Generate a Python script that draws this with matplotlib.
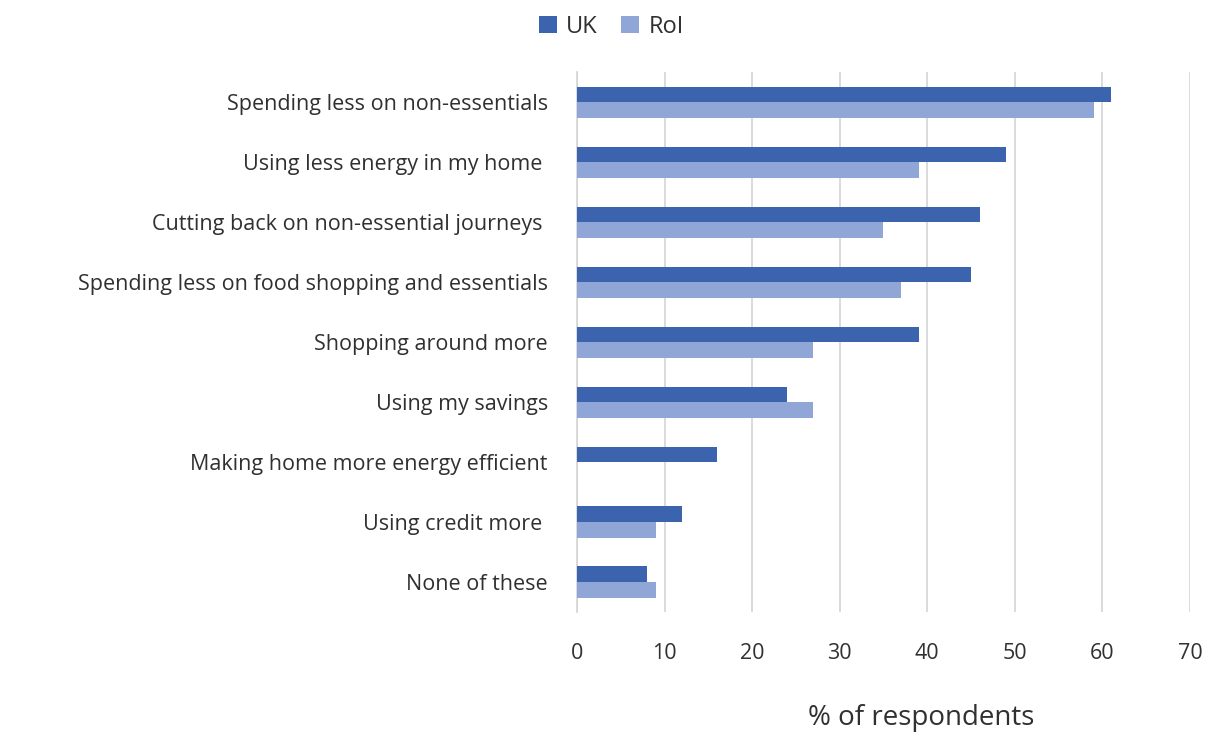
import numpy as np
import matplotlib.pyplot as plt

plt.rcParams['font.family'] = ['Open Sans', 'DejaVu Sans']

# survey responses, top to bottom
actions = [
    "Spending less on non-essentials",
    "Using less energy in my home ",
    "Cutting back on non-essential journeys ",
    "Spending less on food shopping and essentials",
    "Shopping around more",
    "Using my savings",
    "Making home more energy efficient",
    "Using credit more ",
    "None of these",
]
uk = [61, 49, 46, 45, 39, 24, 16, 12, 8]
roi = [59, 39, 35, 37, 27, 27, 0, 9, 9]

uk_col = "#3c63ad"
roi_col = "#8fa6d6"

fig = plt.figure(figsize=(12.11, 7.32), dpi=100)
ax = fig.add_axes([0.4765, 0.164, 0.5061, 0.737])

y = np.arange(len(actions))
h = 0.26
ax.barh(y - h / 2, uk, height=h, color=uk_col, label="UK", zorder=3)
ax.barh(y + h / 2, roi, height=h, color=roi_col, label="RoI", zorder=3)

ax.set_ylim(len(actions) - 0.5, -0.5)
ax.set_yticks(y)
ax.set_yticklabels(actions, fontsize=15.5, color="#303030")
ax.tick_params(axis="y", length=0, pad=21)

ax.set_xlim(0, 70)
ax.set_xticks(range(0, 71, 10))
ax.tick_params(axis="x", length=0, pad=22, labelsize=15.5, labelcolor="#303030")
ax.xaxis.grid(True, color="#d4d4d4", linewidth=1.2, zorder=0)
ax.set_xlabel("% of respondents", fontsize=20, color="#303030", va="top")
ax.xaxis.set_label_coords(0.561, -0.17)

for s in ["top", "right", "bottom"]:
    ax.spines[s].set_visible(False)
ax.spines["left"].set_color("#d4d4d4")
ax.spines["left"].set_linewidth(1.2)

ax.legend(loc="center", bbox_to_anchor=(0.505, 0.963), bbox_transform=fig.transFigure,
          ncol=2, frameon=False, fontsize=17, handlelength=0.75, handleheight=0.75,
          handletextpad=0.4, columnspacing=1.0, labelcolor="#303030")

fig.savefig("out.png", dpi=100, facecolor="white")
